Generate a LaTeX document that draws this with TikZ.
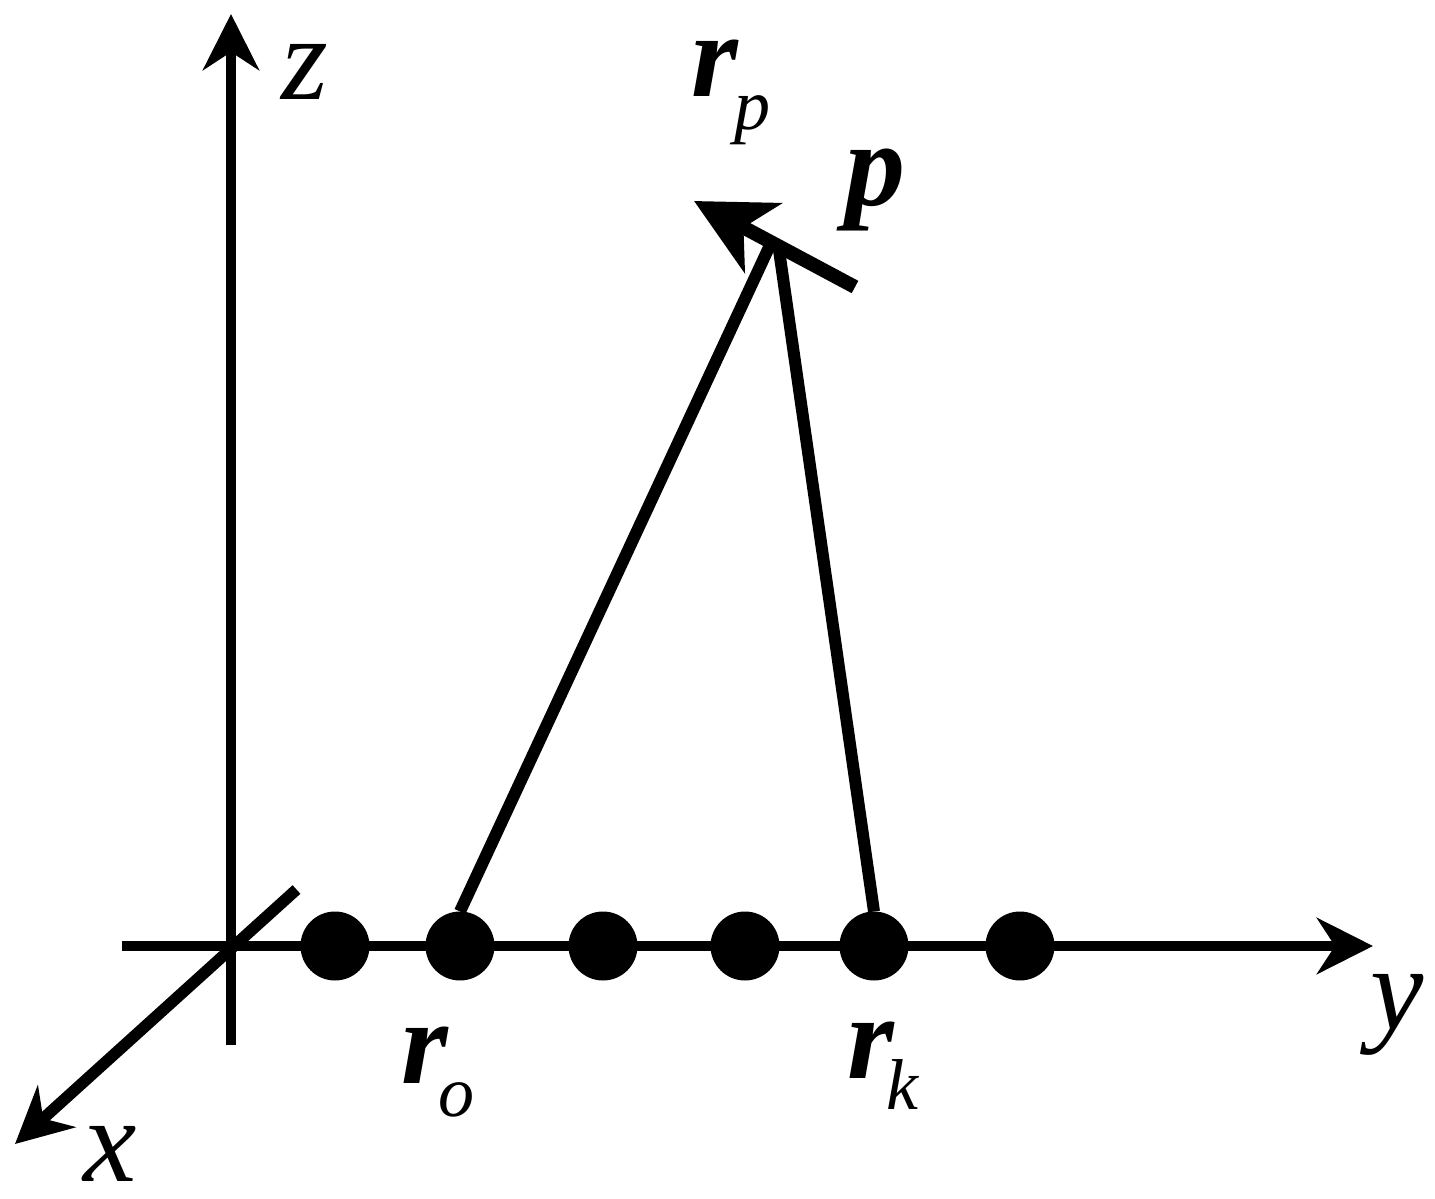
\documentclass[tikz,border=0pt]{standalone}
\usepackage{fontspec}
\setmainfont{Liberation Serif}
\usetikzlibrary{arrows.meta}

\begin{document}
\begin{tikzpicture}[x=0.5pt,y=-0.5pt,
					line width=5.2pt,
					axis/.style={-{Stealth[length=28pt,width=28pt,inset=9pt]}},
					slant axis/.style={line width=5.8pt,-{Stealth[length=28pt,width=28pt,inset=9pt]}},
					ray/.style={line width=6pt},
					momentum/.style={line width=7pt,-{Stealth[length=39pt,width=39pt,inset=11pt]}},
					main node/.style={circle,fill,inner sep=0pt,outer sep=0pt,minimum size=34.5pt},
					big label/.style={inner sep=0pt,outer sep=0pt,font=\fontsize{60pt}{60pt}\selectfont\itshape},
					sub label/.style={inner sep=0pt,outer sep=0pt,font=\fontsize{36pt}{36pt}\selectfont\itshape},
					vec label/.style={inner sep=0pt,outer sep=0pt,font=\fontsize{60pt}{60pt}\selectfont\bfseries\itshape}]

  \useasboundingbox (0,0) rectangle (1435,1199);

  % ends of the axes
  \coordinate (zs) at (231,1045);
  \coordinate (zt) at (231,14);
  \coordinate (ys) at (122,946);
  \coordinate (yt) at (1373,946);
  \coordinate (xs) at (296.5,889.5);
  \coordinate (xt) at (15,1144);

  \draw[axis] (zs) -- (zt);
  \draw[axis] (ys) -- (yt);
  \draw[slant axis] (xs) -- (xt);

  % points on the chain
  \node[main node] (A) at (335,946) {};
  \node[main node] (B) at (460,946) {};
  \node[main node] (C) at (603,946) {};
  \node[main node] (D) at (745,946) {};
  \node[main node] (E) at (874,946) {};
  \node[main node] (F) at (1020,946) {};

  \coordinate (Pl) at (771,243);
  \coordinate (Pr) at (778,243);
  \coordinate (ps) at (855,287);
  \coordinate (pt) at (694,201);

  \draw[ray] (B.north) -- (Pl);
  \draw[ray] (E.north) -- (Pr);
  \draw[momentum] (ps) -- (pt);

  \node[big label] (zl) at (305,72) {z};
  \node[big label] (yl) at (1397,1015) {y};
  \node[big label] (xl) at (110,1154) {x};
  \node[vec label] (rp) at (715,68) {r};
  \node[sub label] (rps) at (752,120) {p};
  \node[vec label] (pl) at (875,190) {p};
  \node[vec label] (ro) at (425,1055) {r};
  \node[sub label] (ros) at (456,1100) {o};
  \node[vec label] (rk) at (871,1050) {r};
  \node[sub label] (rks) at (902,1085) {k};
\end{tikzpicture}
\end{document}
